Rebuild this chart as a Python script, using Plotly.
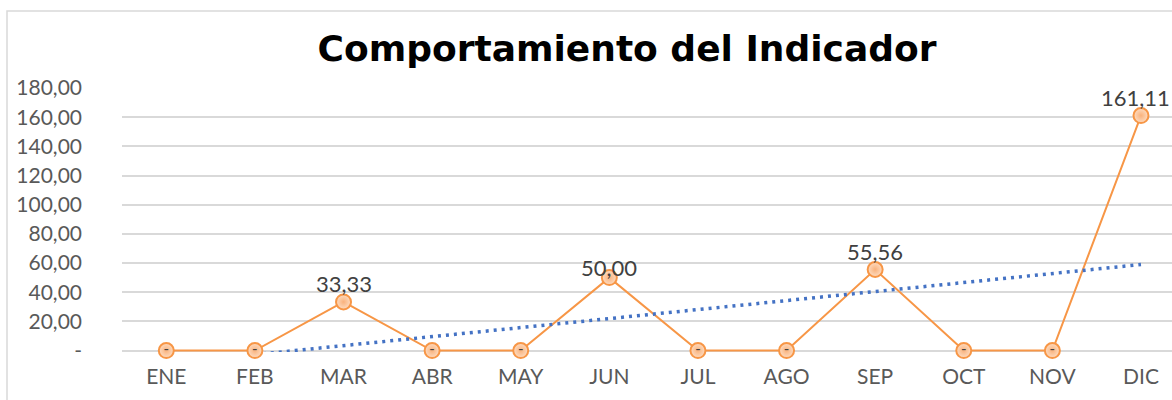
import numpy as np
import plotly.graph_objects as go

months = ["ENE", "FEB", "MAR", "ABR", "MAY", "JUN", "JUL", "AGO", "SEP", "OCT", "NOV", "DIC"]
values = [0, 0, 33.33, 0, 0, 50.00, 0, 0, 55.56, 0, 0, 161.11]
y_ticks = [0, 20, 40, 60, 80, 100, 120, 140, 160, 180]
y_ticktext = ["-", "20,00", "40,00", "60,00", "80,00", "100,00", "120,00", "140,00", "160,00", "180,00"]
title_text = "Comportamiento del Indicador"

def fmt(v):
    return "-" if v == 0 else f"{v:.2f}".replace(".", ",")

labels = [fmt(v) for v in values]

# Linear trendline (as Excel does), computed from the data
xi = np.arange(1, len(values) + 1)
slope, intercept = np.polyfit(xi, values, 1)
trend_idx = list(range(1, len(values)))
trend_y = [slope * (i + 1) + intercept for i in trend_idx]
trend_x = [months[i] for i in trend_idx]

LABEL_FONT = "Lato, Noto Sans, sans-serif"

fig = go.Figure()
fig.add_trace(go.Scatter(
    x=months, y=values, mode="lines",
    line=dict(color="#F79646", width=2),
    hoverinfo="skip", showlegend=False,
))
fig.add_trace(go.Scatter(
    x=trend_x, y=trend_y, mode="lines",
    line=dict(color="#4472C4", width=3.5, dash="3px,5px"),
    hoverinfo="skip", showlegend=False,
))
fig.add_trace(go.Scatter(
    x=months, y=values, mode="markers+text",
    marker=dict(size=15, color="#FDDCC2", line=dict(color="#F79646", width=2),
                gradient=dict(type="radial", color="#F9B27C")),
    text=["-" if v == 0 else "" for v in values], textposition="middle center",
    textfont=dict(family=LABEL_FONT, size=15, color="#404040"),
    cliponaxis=False, showlegend=False,
))

annotations = []
n = len(values)
for i, (m, v, t) in enumerate(zip(months, values, labels)):
    if v != 0:
        annotations.append(dict(x=m, y=v, xref="x", yref="y", text=t, showarrow=False,
                                yshift=10 if v == 50 else 18,
                                xshift=-5 if i == n - 1 else 0,
                                font=dict(family=LABEL_FONT, size=22, color="#404040")))

fig.update_layout(
    width=1172, height=400,
    margin=dict(l=122, r=0, t=88, b=48),
    paper_bgcolor="white", plot_bgcolor="white",
    title=dict(text="<b>" + title_text + "</b>", x=627 / 1172, xanchor="center", xref="container",
               y=1 - 48 / 400, yanchor="middle", yref="container",
               font=dict(family="DejaVu Sans", size=36, color="#000000")),
    font=dict(family=LABEL_FONT, size=21, color="#595959"),
    xaxis=dict(range=[-0.5, 11.35], categoryorder="array", categoryarray=months,
               showgrid=False, showline=False, zeroline=False, automargin=False,
               ticks="outside", ticklen=6, tickcolor="rgba(0,0,0,0)",
               tickfont=dict(size=21, color="#595959")),
    yaxis=dict(range=[-1, 180], tickvals=y_ticks, ticktext=y_ticktext, automargin=False,
               showgrid=True, gridcolor="#D9D9D9", gridwidth=1.5, zeroline=False, showline=False,
               ticklabelstandoff=39, tickfont=dict(size=21, color="#595959")),
    annotations=annotations,
    shapes=[dict(type="rect", xref="paper", yref="paper",
                 x0=(7 - 122) / 1050, x1=1.2, y0=-0.5, y1=1 + (88 - 11) / 264,
                 line=dict(color="#D9D9D9", width=1.5), fillcolor="rgba(0,0,0,0)", layer="below")],
)

fig.write_html("out.html", config={"displayModeBar": False},
               post_script="document.body.style.margin='0';")
